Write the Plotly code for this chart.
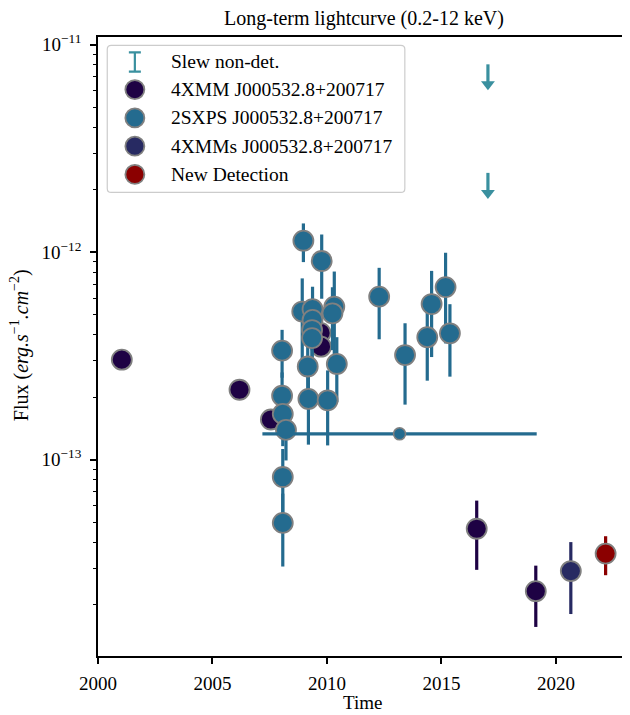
import plotly.graph_objects as go

# ---------------- data ----------------
xmm_time = [2001.04, 2006.18, 2007.55, 2009.72, 2009.74, 2016.54, 2019.12]
xmm_flux = [3.03e-13, 2.17e-13, 1.56e-13, 4.08e-13, 3.50e-13, 4.64e-14, 2.32e-14]
xmm_err = [1.5e-14, 1.2e-14, 1.0e-14, 3.0e-14, 3.0e-14, 1.7e-14, 0.76e-14]

sxps_time = [2008.97, 2009.77, 2008.92, 2009.37, 2010.32, 2010.24, 2009.37, 2009.35,
             2009.35, 2009.16, 2010.43, 2009.19, 2010.03, 2008.04, 2008.04, 2008.07,
             2008.21, 2008.07, 2008.07, 2012.28, 2013.41, 2014.38, 2014.57, 2015.18,
             2015.37]
sxps_flux = [1.135e-12, 9.06e-13, 5.17e-13, 5.31e-13, 5.46e-13, 5.07e-13, 4.71e-13, 4.21e-13,
             3.85e-13, 2.81e-13, 2.89e-13, 1.96e-13, 1.93e-13, 3.35e-13, 2.03e-13, 1.66e-13,
             1.39e-13, 8.24e-14, 4.95e-14, 6.10e-13, 3.19e-13, 3.89e-13, 5.62e-13, 6.78e-13,
             4.06e-13]
sxps_err = [2.4e-13, 3.1e-13, 2.3e-13, 1.5e-13, 2.6e-13, 1.7e-13, 1.2e-13, 1.2e-13,
            1.2e-13, 8.0e-14, 1.0e-13, 7.8e-14, 7.6e-14, 8.7e-14, 6.0e-14, 5.0e-14,
            4.0e-14, 3.0e-14, 1.9e-14, 2.3e-13, 1.35e-13, 1.49e-13, 2.5e-13, 3.15e-13,
            1.55e-13]

stack_time = [2013.17]
stack_flux = [1.33e-13]
stack_xerr = [5.99]

xmms_time = [2020.65]
xmms_flux = [2.90e-14]
xmms_err = [1.1e-14]

new_time = [2022.17]
new_flux = [3.52e-14]
new_err = [0.75e-14]

slew_time = [2017.03, 2017.03]
slew_ul = [8.04e-12, 2.41e-12]
slew_err = [1.6e-12, 0.48e-12]

legend_labels = ["Slew non-det.", "4XMM J000532.8+200717", "2SXPS J000532.8+200717",
                 "4XMMs J000532.8+200717", "New Detection"]

x_ticks = [2000, 2005, 2010, 2015, 2020]
y_ticks = [1e-13, 1e-12, 1e-11]
y_ticktext = ["10<sup>−13</sup>", "10<sup>−12</sup>", "10<sup>−11</sup>"]

# ---------------- style ----------------
C_XMM = "#1e0244"
C_SXPS = "#246b8f"
C_XMMS = "#272a62"
C_NEW = "#8b0000"
C_SLEW = "#3a909f"
EDGE = "#808080"
FONT = "Liberation Serif"

OFF = 8  # default page body margin
W, H = 630, 715
L, R, T, B = 98, 628, 36.7, 656.5


def px(xp):
    return (xp - L) / (R - L)


def py(yp):
    return (B - yp) / (B - T)


fig = go.Figure()


def det(x, y, err, color, size=20):
    return go.Scatter(
        x=x, y=y, mode="markers",
        marker=dict(size=size, color=color, line=dict(color=EDGE, width=1.8)),
        error_y=dict(type="data", array=err, visible=True, color=color,
                     thickness=3.2, width=0),
        showlegend=False, hoverinfo="skip", cliponaxis=False,
    )


fig.add_trace(det(xmm_time, xmm_flux, xmm_err, C_XMM))
fig.add_trace(det(sxps_time, sxps_flux, sxps_err, C_SXPS))
fig.add_trace(go.Scatter(
    x=stack_time, y=stack_flux, mode="markers",
    marker=dict(size=12, color=C_SXPS, line=dict(color=EDGE, width=1.5)),
    error_x=dict(type="data", array=stack_xerr, visible=True, color=C_SXPS,
                 thickness=3.2, width=0),
    showlegend=False, hoverinfo="skip"))
fig.add_trace(det(xmms_time, xmms_flux, xmms_err, C_XMMS))
fig.add_trace(det(new_time, new_flux, new_err, C_NEW))

# slew upper limits: stem + arrow head
fig.add_trace(go.Scatter(
    x=slew_time, y=slew_ul, mode="markers",
    marker=dict(size=2, opacity=0, color=C_SLEW),
    error_y=dict(type="data", symmetric=False, array=[0] * len(slew_ul),
                 arrayminus=slew_err, visible=True, color=C_SLEW,
                 thickness=3.2, width=0),
    showlegend=False, hoverinfo="skip"))
fig.add_trace(go.Scatter(
    x=slew_time, y=[u - e for u, e in zip(slew_ul, slew_err)], mode="markers",
    marker=dict(symbol="triangle-down", size=12, color=C_SLEW, line=dict(width=0)),
    showlegend=False, hoverinfo="skip"))

# ---------------- custom legend (pixel overlay axes) ----------------
leg_y = [61.7, 89.3, 117.7, 146.0, 174.3]
leg_x_mark = 135
leg_x_text = 169

fig.add_trace(go.Scatter(
    x=[leg_x_mark], y=[leg_y[0]], xaxis="x2", yaxis="y2", mode="markers",
    marker=dict(size=1, opacity=0, color=C_SLEW),
    error_y=dict(type="data", array=[9.6], visible=True, color=C_SLEW,
                 thickness=2.2, width=6),
    showlegend=False, hoverinfo="skip"))
fig.add_trace(go.Scatter(
    x=[leg_x_mark] * 4, y=leg_y[1:], xaxis="x2", yaxis="y2", mode="markers",
    marker=dict(size=19, color=[C_XMM, C_SXPS, C_XMMS, C_NEW],
                line=dict(color=EDGE, width=1.8)),
    showlegend=False, hoverinfo="skip"))

# rounded legend box
x0, x1, y0, y1, r = 107.3, 406.0, 45.0, 192.3, 4
path = (f"M {x0+r},{y0} L {x1-r},{y0} Q {x1},{y0} {x1},{y0+r} "
        f"L {x1},{y1-r} Q {x1},{y1} {x1-r},{y1} L {x0+r},{y1} "
        f"Q {x0},{y1} {x0},{y1-r} L {x0},{y0+r} Q {x0},{y0} {x0+r},{y0} Z")
fig.add_shape(type="path", path=path, xref="x2", yref="y2",
              line=dict(color="#cccccc", width=1.2), fillcolor="white", layer="below")

annotations = []
for lab, yy in zip(legend_labels, leg_y):
    annotations.append(dict(x=leg_x_text, y=yy, xref="x2", yref="y2", text=lab,
                            showarrow=False, xanchor="left", yanchor="middle",
                            font=dict(family=FONT, size=19.5, color="black")))

annotations.append(dict(x=px(365), y=py(18), xref="paper", yref="paper",
                        text="Long-term lightcurve (0.2-12 keV)", showarrow=False,
                        xanchor="center", yanchor="middle",
                        font=dict(family=FONT, size=20, color="black")))
annotations.append(dict(x=px(363), y=py(703), xref="paper", yref="paper",
                        text="Time", showarrow=False, xanchor="center", yanchor="middle",
                        font=dict(family=FONT, size=19, color="black")))
annotations.append(dict(x=px(20), y=py(345), xref="paper", yref="paper",
                        text="Flux (<i>erg.s</i><sup>−1</sup><i>.cm</i><sup>−2</sup>)",
                        showarrow=False, xanchor="center", yanchor="middle", textangle=-90,
                        font=dict(family=FONT, size=20, color="black")))

fig.update_layout(
    width=W - OFF, height=H - OFF,
    margin=dict(l=L - OFF, r=W - R, t=T - OFF, b=H - B, pad=0),
    paper_bgcolor="white", plot_bgcolor="white",
    showlegend=False,
    font=dict(family=FONT, size=19, color="black"),
    annotations=annotations,
    xaxis=dict(range=[2000, 2023.06], tickvals=x_ticks, ticks="outside", ticklen=6,
               tickwidth=1.5, tickcolor="black", showline=True, linecolor="black",
               linewidth=1.6, mirror=True, showgrid=False, zeroline=False,
               ticklabelstandoff=3, tickfont=dict(family=FONT, size=19)),
    yaxis=dict(type="log", range=[-13.947, -10.963], tickvals=y_ticks, ticktext=y_ticktext,
               ticks="outside", ticklen=6, tickwidth=1.5, tickcolor="black",
               showline=True, linecolor="black", linewidth=1.6, mirror=True,
               showgrid=False, zeroline=False, ticklabelstandoff=5,
               tickfont=dict(family=FONT, size=19),
               minor=dict(ticks="outside", ticklen=3.5, tickwidth=1.2, tickcolor="black",
                          dtick="D1", showgrid=False)),
    xaxis2=dict(overlaying="x", range=[L, R], visible=False, fixedrange=True),
    yaxis2=dict(overlaying="y", range=[B, T], visible=False, fixedrange=True),
)

fig.write_html("out.html")
